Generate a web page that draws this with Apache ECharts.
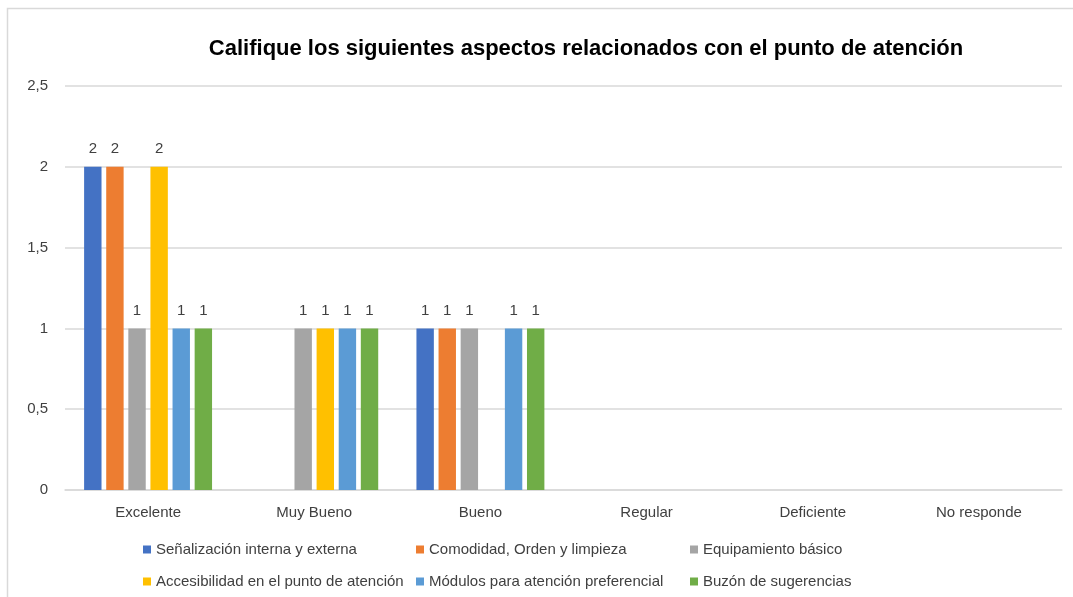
<!DOCTYPE html>
<html>
<head>
<meta charset="utf-8">
<script src="https://cdn.jsdelivr.net/npm/echarts@6/dist/echarts.min.js"></script>
<style>
html,body{margin:0;padding:0;background:#fff;}
#chart{width:1073px;height:597px;}
</style>
</head>
<body>
<div id="chart"></div>
<script>
const titleText = 'Califique los siguientes aspectos relacionados con el punto de atención';
const categories = ['Excelente', 'Muy Bueno', 'Bueno', 'Regular', 'Deficiente', 'No responde'];
const seriesNames = [
  'Señalización interna y externa',
  'Comodidad, Orden y limpieza',
  'Equipamiento básico',
  'Accesibilidad en el punto de atención',
  'Módulos para atención preferencial',
  'Buzón de sugerencias'
];
const senalizacion = [2, null, 1, null, null, null];
const comodidad = [2, null, 1, null, null, null];
const equipamiento = [1, 1, 1, null, null, null];
const accesibilidad = [2, 1, null, null, null, null];
const modulos = [1, 1, 1, null, null, null];
const buzon = [1, 1, 1, null, null, null];
const yTicks = [0, 0.5, 1, 1.5, 2, 2.5];

const seriesData = [senalizacion, comodidad, equipamiento, accesibilidad, modulos, buzon];
const colors = ['#4472C4', '#ED7D31', '#A5A5A5', '#FFC000', '#5B9BD5', '#70AD47'];
const legendPos = [
  {left: 138, top: 537}, {left: 411, top: 537}, {left: 685, top: 537},
  {left: 138, top: 569}, {left: 411, top: 569}, {left: 685, top: 569}
];
const font = '"Liberation Sans", Arial, sans-serif';

const chart = echarts.init(document.getElementById('chart'));
chart.setOption({
  animation: false,
  color: colors,
  graphic: [{
    type: 'rect',
    shape: {x: 7.5, y: 8.5, width: 1200, height: 700},
    style: {fill: 'none', stroke: '#d9d9d9', lineWidth: 1.5},
    silent: true
  }],
  title: {
    text: titleText,
    left: 581,
    textAlign: 'center',
    top: 33,
    textStyle: {fontFamily: font, fontSize: 22, fontWeight: 'bold', color: '#000'}
  },
  legend: seriesNames.map((n, i) => ({
    data: [n],
    left: legendPos[i].left,
    top: legendPos[i].top,
    itemWidth: 8,
    itemHeight: 8,
    icon: 'rect',
    itemGap: 4,
    textStyle: {fontFamily: font, fontSize: 15, color: '#404040'}
  })),
  grid: {left: 65, right: 11, top: 86, bottom: 107, containLabel: false},
  xAxis: {
    type: 'category',
    data: categories,
    axisTick: {show: false},
    axisLine: {lineStyle: {color: '#d9d9d9', width: 1.5}},
    axisLabel: {fontFamily: font, fontSize: 15, color: '#404040', margin: 15}
  },
  yAxis: {
    type: 'value',
    min: yTicks[0],
    max: yTicks[yTicks.length - 1],
    interval: 0.5,
    axisLine: {show: false},
    axisTick: {show: false},
    splitLine: {lineStyle: {color: '#d9d9d9', width: 1.5}},
    axisLabel: {
      fontFamily: font, fontSize: 15, color: '#404040', margin: 17,
      formatter: v => String(v).replace('.', ',')
    }
  },
  series: seriesNames.map((n, i) => ({
    name: n,
    type: 'bar',
    data: seriesData[i],
    barGap: '27%',
    barCategoryGap: '23%',
    label: {
      show: true,
      position: 'top',
      distance: 10,
      fontFamily: font,
      fontSize: 15,
      color: '#404040'
    }
  }))
});
</script>
</body>
</html>
